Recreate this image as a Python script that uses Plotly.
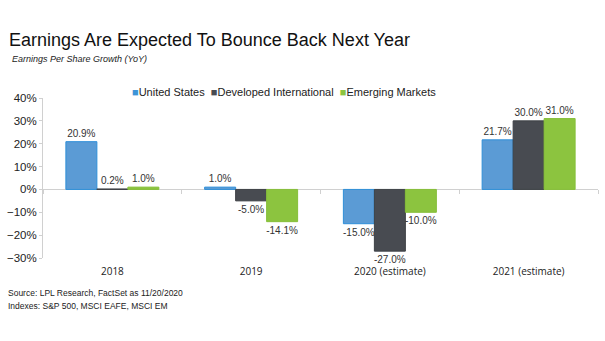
import plotly.graph_objects as go

categories = ["2018", "2019", "2020 (estimate)", "2021 (estimate)"]
us = [20.9, 1.0, -15.0, 21.7]
dev_intl = [0.2, -5.0, -27.0, 30.0]
emerging = [1.0, -14.1, -10.0, 31.0]
series_names = ["United States", "Developed International", "Emerging Markets"]
title = "Earnings Are Expected To Bounce Back Next Year"
subtitle = "Earnings Per Share Growth (YoY)"
source_lines = ["Source: LPL Research, FactSet as 11/20/2020",
                "Indexes: S&P 500, MSCI EAFE, MSCI EM"]

fills = ["#5B9BD5", "#484B51", "#8CC43F"]
borders = ["#2F8FD8", "#3E4146", "#86BF3A"]
legend_sq = ["#3D95D8", "#484B51", "#8CC43F"]

fig = go.Figure()
for name, vals, fc, bc in zip(series_names, [us, dev_intl, emerging], fills, borders):
    fig.add_trace(go.Bar(
        x=categories, y=vals, name=name,
        marker=dict(color=fc, line=dict(color=bc, width=1)),
        text=[f"{v:.1f}%" for v in vals], textposition="outside",
        constraintext="none",
        textfont=dict(family="Arial", size=10, color="#333333"),
        cliponaxis=False,
    ))

# invisible trace for the zero-line tick axis
fig.add_trace(go.Scatter(x=categories, y=[None]*len(categories), xaxis="x2",
                         showlegend=False, hoverinfo="skip", mode="markers"))

ymin, ymax = -30, 40
fig.update_layout(
    width=605, height=341,
    margin=dict(l=41, r=7, t=98, b=83),
    paper_bgcolor="white", plot_bgcolor="white",
    barmode="group", bargap=0.33, bargroupgap=0.0,
    font=dict(family="Arial", color="#222222"),
    showlegend=False,
    yaxis=dict(range=[ymin, ymax], dtick=10, ticksuffix="%", showgrid=False,
               showline=True, linecolor="#D0D0D0", linewidth=1,
               ticks="outside", ticklen=3, tickcolor="#D0D0D0",
               zeroline=True, zerolinecolor="#D0D0D0", zerolinewidth=1,
               tickfont=dict(family="Arial", size=11.5, color="#222222")),
    xaxis=dict(showline=False, ticks="", showgrid=False, ticklabelstandoff=6,
               tickfont=dict(family="Open Sans", size=10, color="#222222")),
    xaxis2=dict(overlaying="x", anchor="free", position=(0 - ymin) / (ymax - ymin),
                matches="x", showline=False, showgrid=False, showticklabels=False,
                ticks="outside", ticklen=4, tickcolor="#D0D0D0", tickson="boundaries",
                type="category"),
)

legend_text = "  ".join(
    f"<span style='color:{c}'>■</span>{n}" for c, n in zip(legend_sq, series_names)
)
fig.add_annotation(text=legend_text, xref="paper", yref="paper", x=(128 - 41) / 557, y=1 + (98 - 92) / 160,
                   xanchor="left", yanchor="middle", showarrow=False,
                   font=dict(family="Arial", size=11, color="#222222"))

fig.add_annotation(text=title, xref="paper", yref="paper", x=-0.065, y=1.29,
                   xanchor="left", yanchor="bottom", showarrow=False,
                   font=dict(family="Arial", size=18, color="#111111"))
fig.add_annotation(text=f"<i>{subtitle}</i>", xref="paper", yref="paper", x=-0.06, y=1.20,
                   xanchor="left", yanchor="bottom", showarrow=False,
                   font=dict(family="Arial", size=9, color="#222222"))
for i, line in enumerate(source_lines):
    yc = 293 + 13 * i
    fig.add_annotation(text=line, xref="paper", yref="paper", x=-0.066, y=(258 - yc) / 160,
                       xanchor="left", yanchor="middle", showarrow=False, align="left",
                       font=dict(family="Arial", size=8.5, color="#222222"))

fig.write_html("out.html")
